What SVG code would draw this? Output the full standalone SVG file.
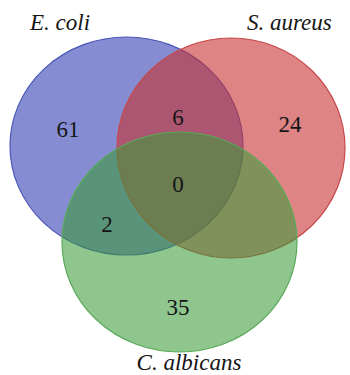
<svg xmlns="http://www.w3.org/2000/svg" width="350" height="375" viewBox="0 0 350 375">
<style>
.lbl{font-family:"Liberation Serif","Times New Roman",serif;font-style:italic;font-size:23px;fill:#151515}
.num{font-family:"Liberation Serif","Times New Roman",serif;font-size:23px;fill:#151515;text-anchor:middle}
.set{stroke-width:1.2}
</style>
<rect width="350" height="375" fill="#ffffff"/>
<g id="ecoli">
<ellipse class="set" cx="126.5" cy="146" rx="116.5" ry="109" fill="#3a46b4" fill-opacity="0.62" stroke="#4a56b8"/>
</g>
<g id="saureus">
<ellipse class="set" cx="231" cy="148" rx="114" ry="110" fill="#c83232" fill-opacity="0.6" stroke="#c84848"/>
</g>
<g id="calbicans">
<ellipse class="set" cx="179.5" cy="242" rx="117.5" ry="110" fill="#389a38" fill-opacity="0.57" stroke="#5aaa5a"/>
</g>
<g id="labels">
<text class="lbl" x="30" y="30">E. coli</text>
<text class="lbl" x="247" y="30">S. aureus</text>
<text class="lbl" x="189" y="370" text-anchor="middle">C. albicans</text>
</g>
<g id="counts">
<text class="num" x="68" y="137">61</text>
<text class="num" x="178" y="125">6</text>
<text class="num" x="290" y="132">24</text>
<text class="num" x="178" y="192">0</text>
<text class="num" x="107" y="232">2</text>
<text class="num" x="178" y="315">35</text>
</g>
</svg>
